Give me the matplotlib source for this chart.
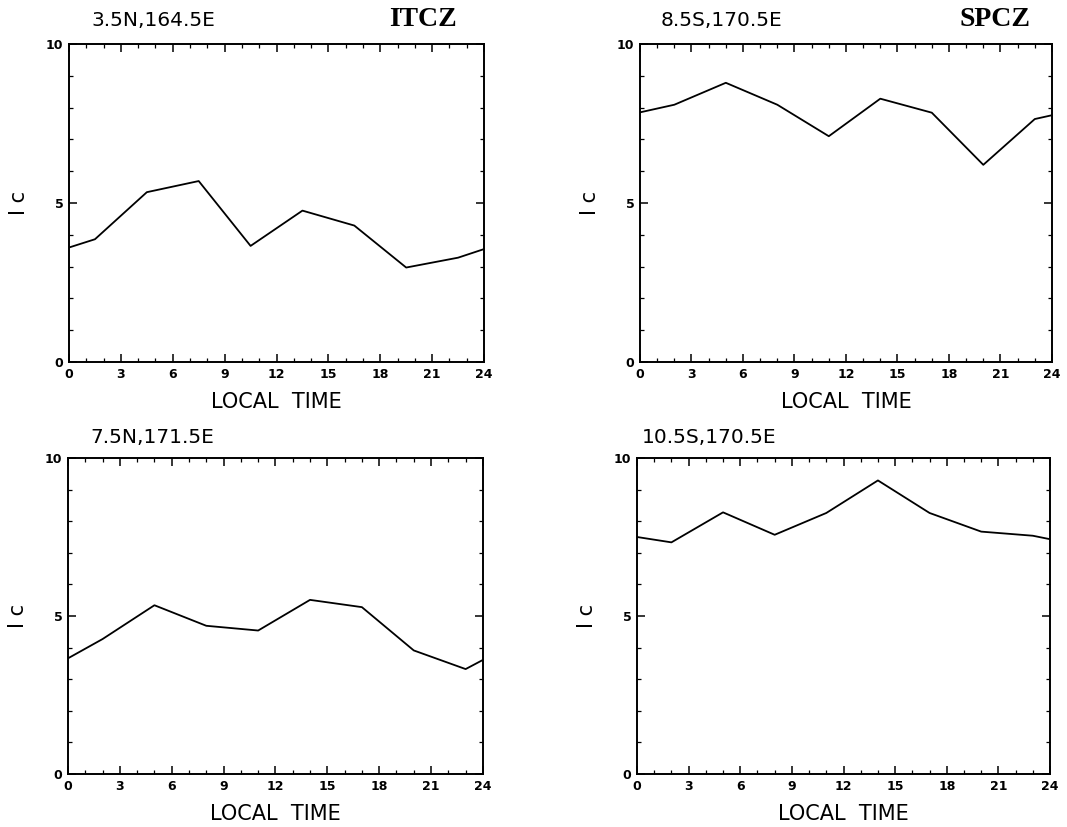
import matplotlib
matplotlib.use('Agg')
import matplotlib.pyplot as plt
from matplotlib.ticker import MultipleLocator

# Diurnal Ic values
HOURS_HALF = [0, 1.5, 4.5, 7.5, 10.5, 13.5, 16.5, 19.5, 22.5, 24]
HOURS_INT = [0, 2, 5, 8, 11, 14, 17, 20, 23, 24]

IC_3N = [3.60, 3.86, 5.34, 5.69, 3.65, 4.76, 4.29, 2.97, 3.28, 3.55]
IC_8S = [7.85, 8.09, 8.78, 8.09, 7.10, 8.28, 7.84, 6.20, 7.64, 7.76]
IC_7N = [3.66, 4.27, 5.34, 4.69, 4.54, 5.51, 5.28, 3.91, 3.32, 3.61]
IC_10S = [7.50, 7.33, 8.28, 7.57, 8.26, 9.29, 8.26, 7.67, 7.54, 7.43]

TITLES = ['3.5N,164.5E', '8.5S,170.5E', '7.5N,171.5E', '10.5S,170.5E']
REGIONS = ['ITCZ', 'SPCZ', '', '']
X_TICKS = [0, 3, 6, 9, 12, 15, 18, 21, 24]
Y_TICKS = [0, 5, 10]

SANS = 'DejaVu Sans'
SERIF = 'Liberation Serif'

# axes boxes in figure fractions (left, bottom, width, height)
BOXES = [
    (0.0647, 0.5623, 0.3889, 0.3845),
    (0.5998, 0.5623, 0.3861, 0.3845),
    (0.0637, 0.0641, 0.3889, 0.3821),
    (0.5970, 0.0641, 0.3871, 0.3821),
]
TITLE_X = [0.053, 0.049, 0.053, 0.012]
TITLE_Y = [1.058, 1.058, 1.047, 1.047]
REGION_X = [0.935, 0.947]


def style_axes(ax):
    for spine in ax.spines.values():
        spine.set_linewidth(1.4)
        spine.set_color('black')
    ax.set_xlim(0, 24)
    ax.set_ylim(0, 10)
    ax.set_xticks(X_TICKS)
    ax.set_yticks(Y_TICKS)
    ax.xaxis.set_minor_locator(MultipleLocator(1))
    ax.yaxis.set_minor_locator(MultipleLocator(1))
    ax.tick_params(which='major', direction='in', length=6, width=1.1,
                   top=True, right=True, labelsize=9, pad=4)
    ax.tick_params(which='minor', direction='in', length=3, width=0.9,
                   top=True, right=True)
    for lab in ax.get_xticklabels() + ax.get_yticklabels():
        lab.set_fontweight('bold')
        lab.set_family(SANS)
    ax.set_xlabel('LOCAL  TIME', fontsize=15, family=SANS, labelpad=8)
    ax.set_ylabel('I c', fontsize=15, family=SANS, labelpad=12)


def main():
    fig = plt.figure(figsize=(10.67, 8.27), dpi=100)
    fig.patch.set_facecolor('white')

    series = [(HOURS_HALF, IC_3N), (HOURS_INT, IC_8S),
              (HOURS_INT, IC_7N), (HOURS_INT, IC_10S)]

    for i, (box, (xs, ys)) in enumerate(zip(BOXES, series)):
        ax = fig.add_axes(box)
        ax.plot(xs, ys, color='black', linewidth=1.3)
        style_axes(ax)
        ax.text(TITLE_X[i], TITLE_Y[i], TITLES[i], transform=ax.transAxes,
                fontsize=14.5, family=SANS, ha='left', va='baseline')
        if REGIONS[i]:
            ax.text(REGION_X[i], TITLE_Y[i], REGIONS[i], transform=ax.transAxes,
                    fontsize=20, family=SERIF, fontweight='bold',
                    ha='right', va='baseline')

    fig.savefig('out.png', dpi=100, facecolor='white')
    plt.close(fig)


if __name__ == '__main__':
    main()
